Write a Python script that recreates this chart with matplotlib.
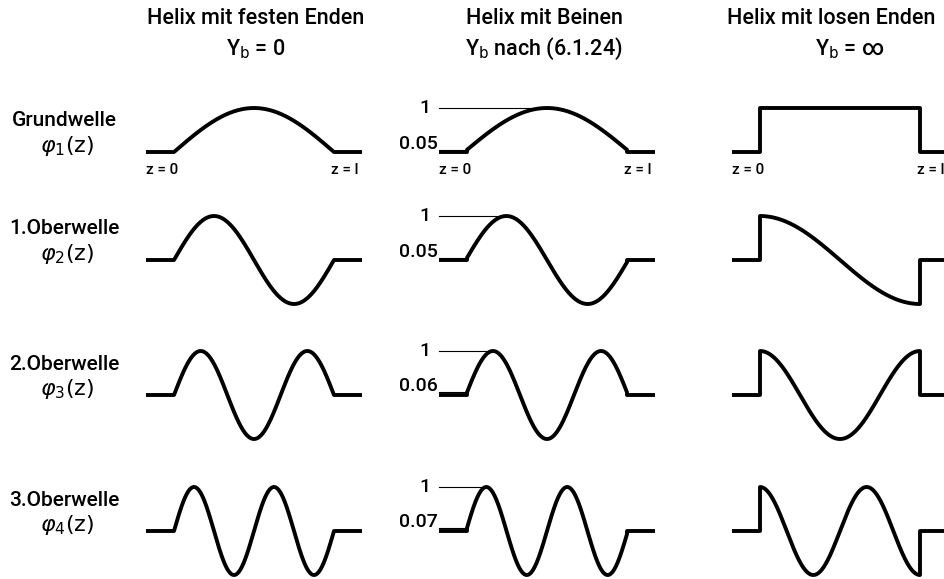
import numpy as np
import matplotlib
matplotlib.use("Agg")
import matplotlib.pyplot as plt

plt.rcParams['font.family'] = ['Roboto', 'DejaVu Sans']
plt.rcParams['font.weight'] = 'medium'
plt.rcParams['mathtext.fontset'] = 'dejavusans'

# mode labels and boundary data
modes = [1, 2, 3, 4]
row_names = ["Grundwelle", "1.Oberwelle", "2.Oberwelle", "3.Oberwelle"]
phi_labels = [r"$\varphi_{1}(\mathrm{z})$", r"$\varphi_{2}(\mathrm{z})$",
              r"$\varphi_{3}(\mathrm{z})$", r"$\varphi_{4}(\mathrm{z})$"]
col_titles = ["Helix mit festen Enden", "Helix mit Beinen", "Helix mit losen Enden"]
col_subtitles = [r"Y$_\mathrm{b}$ = 0", r"Y$_\mathrm{b}$ nach (6.1.24)", r"Y$_\mathrm{b}$ = ∞"]
leg_end_values = [0.05, 0.05, 0.06, 0.07]   # phi(0) for the helix with legs
peak_value = 1.0

# layout in pixels
W, H = 945, 579
col_x0 = [174, 467, 760]      # start of helix z=0
L = 160                       # helix length l
S = 28                        # lead stub
row_base = [152, 260, 395, 531]
A = 44                        # pixels per unit amplitude
YL = 1.3

fig = plt.figure(figsize=(W / 100, H / 100), dpi=100)
fig.patch.set_facecolor('white')

s = S / L
z = np.linspace(0, 1, 400)
lw = 2.8


def mode_shape(kind, n, eps):
    if kind == 0:      # fixed ends
        y = np.sin(n * np.pi * z)
        xs = np.concatenate([[-s], z, [1 + s]])
        ys = np.concatenate([[0], y, [0]])
    elif kind == 1:    # with legs
        t0 = np.arcsin(eps)
        th = t0 + z * (n * np.pi - 2 * t0)
        y = peak_value * np.sin(th)
        xs = np.concatenate([[-s, 0], z, [1, 1 + s]])
        ys = np.concatenate([[0, 0], y, [0, 0]])
    else:              # loose ends
        y = np.cos((n - 1) * np.pi * z)
        xs = np.concatenate([[-s, 0], z, [1, 1 + s]])
        ys = np.concatenate([[0, 0], y, [0, 0]])
    return xs, ys


for c in range(3):
    for r, n in enumerate(modes):
        left = (col_x0[c] - S) / W
        width = (L + 2 * S) / W
        bottom = (H - (row_base[r] + YL * A)) / H
        height = 2 * YL * A / H
        ax = fig.add_axes([left, bottom, width, height])
        ax.set_xlim(-s, 1 + s)
        ax.set_ylim(-YL, YL)
        ax.set_axis_off()
        xs, ys = mode_shape(c, n, leg_end_values[r])
        ax.plot(xs, ys, color='black', lw=lw, solid_joinstyle='round',
                solid_capstyle='butt', clip_on=False)

        if c == 1:
            eps = leg_end_values[r]
            t0 = np.arcsin(eps)
            z_peak = (np.pi / 2 - t0) / (n * np.pi - 2 * t0)
            ax.plot([-s, z_peak], [peak_value, peak_value], color='black', lw=0.8, clip_on=False)
            ax.plot([-s, 0], [eps, eps], color='black', lw=0.8, clip_on=False)
            ax.text(-s - 0.05, peak_value, "1", ha='right', va='center', fontsize=14, clip_on=False)
            ax.text(-s - 0.01, eps + 0.14, f"{eps:.2f}", ha='right', va='center', fontsize=14,
                    clip_on=False)

        if r == 0:
            ax.text(-s, -0.42, "z = 0", ha='left', va='center', fontsize=11, clip_on=False)
            ax.text(1 - 0.02, -0.42, "z = l", ha='left', va='center', fontsize=11, clip_on=False)

# column headings
col_centers = [256, 544, 831]
for c in range(3):
    fig.text(col_centers[c] / W, 1 - 18 / H, col_titles[c], ha='center', va='center', fontsize=15.5)
    fig.text((col_centers[c] + (19 if c == 2 else 0)) / W, 1 - 49 / H, col_subtitles[c],
             ha='center', va='center', fontsize=15.5)

# row headings
for r in range(4):
    fig.text(64 / W, 1 - (row_base[r] - 31) / H, row_names[r], ha='center', va='center', fontsize=15)
    fig.text(67 / W, 1 - (row_base[r] - 6) / H, phi_labels[r], ha='center', va='center', fontsize=16)

fig.savefig("out.png", dpi=100, facecolor='white')
